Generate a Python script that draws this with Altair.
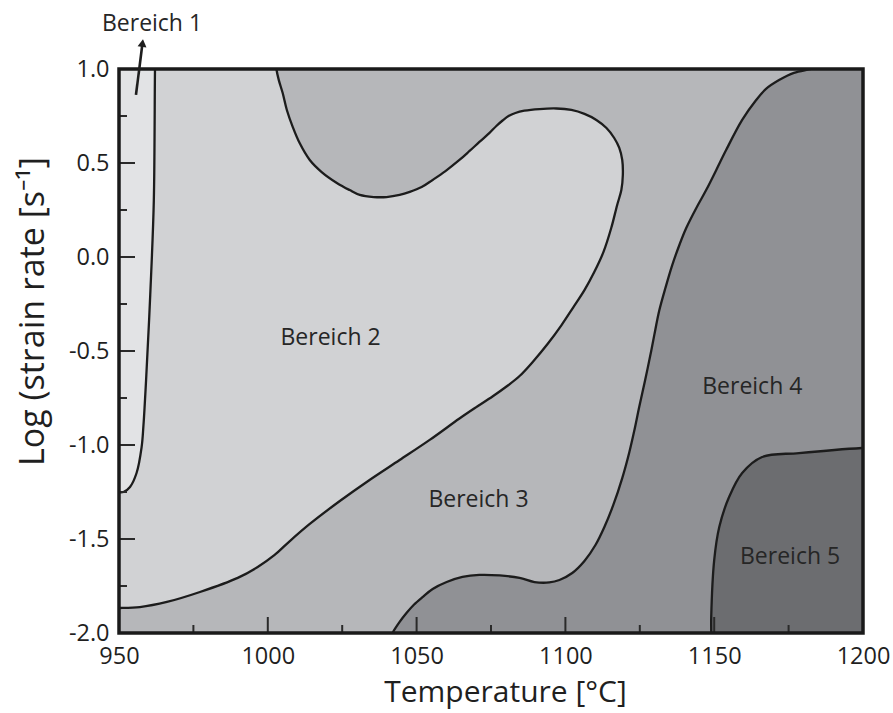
import altair as alt
import pandas as pd

# Processing map: temperature [°C] vs. log strain rate, five regions.
# Each region is a closed outline (temperature, log strain rate); points that
# fall outside the plotted range only close the outline and are clipped away.

region1_T = [962.2, 962.1, 961.7, 960.5, 959.1, 958.2, 957.6, 955.9, 953.7, 951.5, 950.0, 945.0, 940.0, 940.0]
region1_L = [1.05, 1.0, 0.3, -0.2, -0.654, -0.9, -1.011, -1.149, -1.223, -1.25, -1.252, -1.252, -1.252, 1.1]

region2_T = [1002.7, 1002.9, 1003.7, 1005.0, 1006.4, 1008.4, 1010.7, 1014.1, 1018.1, 1023.2,
             1027.5, 1030.9, 1035.6, 1039.9, 1044.3, 1047.7, 1051.7, 1055.4, 1059.7, 1064.4,
             1067.8, 1071.1, 1074.5, 1076.8, 1078.9, 1080.9, 1083.2, 1086.2, 1091.3, 1097.0,
             1102.0, 1106.4, 1110.4, 1113.8, 1116.4, 1118.1, 1119.1, 1119.3, 1118.8, 1117.4,
             1115.4, 1112.8, 1109.7, 1106.4, 1102.7, 1098.7, 1094.0, 1089.3, 1084.6, 1080.2,
             1075.5, 1069.8, 1064.4, 1054.4, 1044.3, 1034.2, 1024.2, 1014.1, 1007.4, 1002.3,
             996.6, 989.9, 977.2, 966.1, 957.0, 950.0, 944.0, 940.0, 940.0, 1002.0]
region2_L = [1.048, 1.0, 0.941, 0.872, 0.782, 0.691, 0.606, 0.516, 0.452, 0.394,
             0.356, 0.330, 0.319, 0.319, 0.330, 0.346, 0.372, 0.410, 0.457, 0.516,
             0.564, 0.612, 0.660, 0.697, 0.726, 0.750, 0.766, 0.778, 0.787, 0.790,
             0.782, 0.761, 0.729, 0.686, 0.633, 0.580, 0.516, 0.436, 0.356, 0.277,
             0.154, 0.027, -0.080, -0.176, -0.266, -0.362, -0.463, -0.553, -0.633, -0.689,
             -0.742, -0.801, -0.859, -0.973, -1.080, -1.186, -1.298, -1.420, -1.511, -1.585,
             -1.649, -1.707, -1.782, -1.835, -1.862, -1.867, -1.867, -1.867, 1.1, 1.1]

region4_T = [1040.9, 1041.9, 1044.3, 1046.6, 1049.0, 1052.0, 1055.4, 1060.1, 1065.4, 1071.1,
             1077.9, 1084.6, 1089.6, 1094.6, 1098.0, 1102.3, 1106.4, 1110.1, 1113.1, 1116.1,
             1119.1, 1121.5, 1123.2, 1124.8, 1126.8, 1128.9, 1130.2, 1131.5, 1133.6, 1135.9,
             1138.3, 1140.6, 1144.0, 1147.3, 1150.7, 1154.0, 1159.4, 1164.1, 1167.4, 1171.8,
             1176.8, 1182.6, 1185.9, 1210.0, 1210.0, 1040.0]
region4_L = [-2.037, -2.0, -1.941, -1.894, -1.851, -1.809, -1.766, -1.729, -1.702, -1.691,
             -1.694, -1.707, -1.729, -1.731, -1.718, -1.681, -1.617, -1.532, -1.436, -1.319,
             -1.176, -1.037, -0.920, -0.798, -0.654, -0.495, -0.388, -0.287, -0.165, -0.043,
             0.064, 0.154, 0.261, 0.356, 0.463, 0.569, 0.729, 0.835, 0.894, 0.941,
             0.979, 1.0, 1.016, 1.1, -2.1, -2.1]

region5_T = [1148.9, 1149.0, 1149.0, 1150.0, 1151.7, 1155.0, 1159.4, 1166.1, 1178.5, 1199.7, 1210.0, 1210.0]
region5_L = [-2.1, -2.0, -1.915, -1.612, -1.436, -1.277, -1.149, -1.064, -1.043, -1.016, -1.01, -2.1]

region_colors = ["#e2e3e5", "#d1d2d4", "#b6b7ba", "#909195", "#6c6d70"]

label_text = ["Bereich 1", "Bereich 2", "Bereich 3", "Bereich 4", "Bereich 5"]
label_T = [961.1, 1021.1, 1070.8, 1162.8, 1175.5]
label_L = [1.239, -0.431, -1.293, -0.691, -1.596]

# pointer from the "Bereich 1" label down into the narrow strip
arrow_T = [955.7, 957.9]
arrow_L = [0.862, 1.138]

x_ticks = [950, 1000, 1050, 1100, 1150, 1200]
y_ticks = [-2.0, -1.5, -1.0, -0.5, 0.0, 0.5, 1.0]
x_major_inner = [1000, 1050, 1100, 1150]
x_minor_inner = [975, 1025, 1075, 1125, 1175]
y_major_inner = [-1.5, -1.0, -0.5, 0.0, 0.5]
y_minor_inner = [-1.75, -1.25, -0.75, -0.25, 0.25, 0.75]

W, H = 744, 564
FONT = "Open Sans"
INK = "#1f1f1f"

x_scale = alt.Scale(domain=[950, 1200], nice=False, zero=False)
y_scale = alt.Scale(domain=[-2, 1], nice=False, zero=False)

x_enc = alt.X(
    "T:Q", scale=x_scale,
    axis=alt.Axis(
        values=x_ticks, format="d", title="Temperature [°C]",
        titleFont=FONT, titleFontSize=30, titleFontWeight="normal", titleColor=INK,
        titleX=386, titleY=68, titleBaseline="alphabetic",
        labelFont=FONT, labelFontSize=23.5, labelColor=INK, labelPadding=11,
        labelFlush=False, ticks=False, domain=False, grid=False,
    ),
)
y_enc = alt.Y(
    "L:Q", scale=y_scale,
    axis=alt.Axis(
        values=y_ticks, labelExpr="replace(format(datum.value, '.1f'), '\u2212', '-')",
        title="Log (strain rate [s\u207b\u00b9]",
        titleFont=FONT, titleFontSize=34, titleFontWeight="normal", titleColor=INK,
        titleX=-86, titleY=242, titleBaseline="middle", titleAngle=-90,
        labelFont=FONT, labelFontSize=23.5, labelColor=INK, labelPadding=10,
        labelFlush=False, ticks=False, domain=False, grid=False,
    ),
)


def outline(T, L):
    return pd.DataFrame({"T": T, "L": L, "i": list(range(len(T)))})


def region(T, L, color):
    return alt.Chart(outline(T, L)).mark_line(
        fill=color, stroke="#1c1c1c", strokeWidth=2.3,
        interpolate="catmull-rom", clip=True,
    ).encode(x=x_enc, y=y_enc, order="i:Q")


layers = [
    region(region2_T, region2_L, region_colors[1]),
    region(region1_T, region1_L, region_colors[0]),
    region(region4_T, region4_L, region_colors[3]),
    region(region5_T, region5_L, region_colors[4]),
]

labels = alt.Chart(pd.DataFrame({"T": label_T, "L": label_L, "t": label_text})).mark_text(
    font=FONT, fontSize=23, color="#262626"
).encode(x=x_enc, y=y_enc, text="t:N")


# inward-pointing tick marks along the bottom and left edges
def x_inner(vals, length):
    return alt.Chart(pd.DataFrame({"T": vals})).mark_rule(color="#2a2a2a", strokeWidth=2).encode(
        x=x_enc, y=alt.value(H), y2=alt.value(H - length)
    )


def y_inner(vals, length):
    return alt.Chart(pd.DataFrame({"L": vals})).mark_rule(color="#2a2a2a", strokeWidth=2).encode(
        y=y_enc, x=alt.value(0), x2=alt.value(length)
    )


ticks = [x_inner(x_major_inner, 16), x_inner(x_minor_inner, 8),
         y_inner(y_major_inner, 16), y_inner(y_minor_inner, 8)]

frame = alt.Chart(pd.DataFrame({"T": [950], "T2": [1200], "L": [-2], "L2": [1]})).mark_rect(
    fillOpacity=0, stroke="#1a1a1a", strokeWidth=3.5
).encode(x=x_enc, x2="T2:Q", y=y_enc, y2="L2:Q")

arrow_df = pd.DataFrame({"T": arrow_T, "L": arrow_L, "i": [0, 1]})
arrow_line = alt.Chart(arrow_df).mark_line(color="#1e1e1e", strokeWidth=2.6).encode(
    x=x_enc, y=y_enc, order="i:Q"
)
arrow_head = alt.Chart(arrow_df.iloc[[1]]).mark_point(
    shape="triangle-up", filled=True, size=80, angle=7, color="#1e1e1e", opacity=1
).encode(x=x_enc, y=y_enc)

chart = alt.layer(
    *layers, labels, *ticks, frame, arrow_line, arrow_head
).properties(
    width=W, height=H,
    autosize=alt.AutoSizeParams(type="none"),
    padding={"left": 119, "top": 69, "right": 30, "bottom": 80},
    background="white",
).configure_view(fill=region_colors[2], stroke=None)

chart.save("out.html", embed_options={"renderer": "svg", "actions": False})
